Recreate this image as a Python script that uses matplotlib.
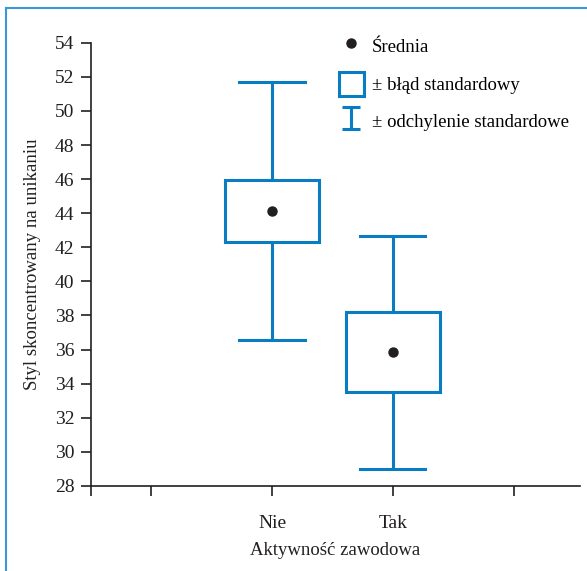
import numpy as np
import matplotlib.pyplot as plt
from matplotlib.patches import Rectangle, Patch
from matplotlib.lines import Line2D
from matplotlib.path import Path

# Dane
kategorie = ['Nie', 'Tak']
srednia = [44.14, 35.84]
blad_std = [1.82, 2.34]
odch_std = [7.57, 6.82]

niebieski = '#0a7dc2'
czarny = '#231f20'

plt.rcParams['font.family'] = ['Liberation Serif', 'DejaVu Serif']
plt.rcParams['font.size'] = 13

fig = plt.figure(figsize=(5.87, 5.71), dpi=100)
ax = fig.add_axes([0.155, 0.149, 0.833, 0.776])

x = np.arange(1, len(kategorie) + 1)
szer_pudla = 0.39
szer_wasa = 0.27

for xi, m, se, sd in zip(x, srednia, blad_std, odch_std):
    # wasy (odchylenie standardowe)
    ax.plot([xi, xi], [m + se, m + sd], color=niebieski, lw=2.2, zorder=2)
    ax.plot([xi, xi], [m - se, m - sd], color=niebieski, lw=2.2, zorder=2)
    ax.plot([xi - szer_wasa, xi + szer_wasa], [m + sd, m + sd], color=niebieski, lw=2.2, zorder=2)
    ax.plot([xi - szer_wasa, xi + szer_wasa], [m - sd, m - sd], color=niebieski, lw=2.2, zorder=2)
    # pudelko (blad standardowy)
    ax.add_patch(Rectangle((xi - szer_pudla, m - se), 2 * szer_pudla, 2 * se,
                           facecolor='white', edgecolor=niebieski, lw=2.2, zorder=3))
    # srednia
    ax.plot(xi, m, 'o', color=czarny, ms=6.5, zorder=4)

ax.set_xlim(-0.5, 3.55)
ax.set_ylim(28, 54)
ax.set_yticks(np.arange(28, 55, 2))
ax.set_xticks([-0.5, 0, 1, 2, 3])
ax.set_xticklabels(['', '', 'Nie', 'Tak', ''])

for s in ['top', 'right']:
    ax.spines[s].set_visible(False)
for s in ['left', 'bottom']:
    ax.spines[s].set_linewidth(1.2)
    ax.spines[s].set_color(czarny)
ax.tick_params(axis='y', length=7, width=1.2, pad=5, colors=czarny, labelsize=14)
ax.tick_params(axis='x', length=7, width=1.2, pad=14, colors=czarny, labelsize=14)

ax.set_xlabel('Aktywność zawodowa', fontsize=13.5, color=czarny, labelpad=7)
ax.set_ylabel('Styl skoncentrowany na unikaniu', fontsize=13.5, color=czarny, labelpad=10)

# legenda
sciezka_I = Path([(-0.85, -1), (0.85, -1), (0, -1), (0, 1), (-0.85, 1), (0.85, 1)],
                 [Path.MOVETO, Path.LINETO, Path.MOVETO, Path.LINETO, Path.MOVETO, Path.LINETO])
uchwyty = [
    Line2D([], [], marker='o', ls='', color=czarny, ms=6.5),
    Patch(facecolor='white', edgecolor=niebieski, lw=2.2),
    Line2D([], [], marker=sciezka_I, ls='', color=niebieski, ms=15.5, mew=2.2, mfc='none'),
]
opisy = ['Średnia', '± błąd standardowy', '± odchylenie standardowe']
ax.legend(uchwyty, opisy, loc='upper left', bbox_to_anchor=(0.562, 0.957),
          bbox_transform=fig.transFigure, frameon=False, fontsize=13.5,
          handlelength=1.3, handleheight=1.6, handletextpad=0.45, labelspacing=0.72,
          borderpad=0)

# ramka
fig.add_artist(Line2D([0.0094, 1.0], [0.986, 0.986], transform=fig.transFigure,
                      color='#3a96d8', lw=1.5))
fig.add_artist(Line2D([0.0094, 0.0094], [0.0, 0.986], transform=fig.transFigure,
                      color='#3a96d8', lw=1.5))

fig.savefig('out.png', dpi=100)
